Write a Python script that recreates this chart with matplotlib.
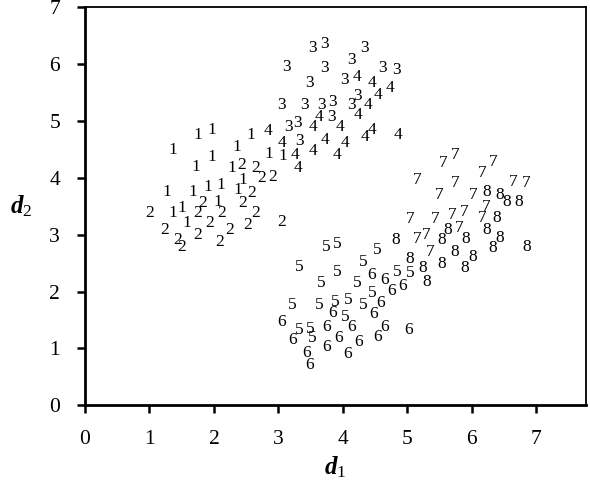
import matplotlib.pyplot as plt

plt.rcParams['font.family'] = ['Liberation Serif', 'DejaVu Serif']
plt.rcParams['mathtext.fontset'] = 'custom'
plt.rcParams['mathtext.rm'] = 'Liberation Serif'
plt.rcParams['mathtext.it'] = 'Liberation Serif:italic'
plt.rcParams['mathtext.bf'] = 'Liberation Serif:bold:italic'

# class 1
x1 = [1.75, 1.97, 1.36, 1.97, 1.72, 1.27, 1.67, 1.91, 2.11, 1.36,
      1.50, 2.06, 1.58, 2.36, 2.57, 2.28, 2.45, 2.37, 2.85, 3.07]
y1 = [4.75, 4.84, 4.49, 4.37, 4.19, 3.75, 3.75, 3.84, 3.87, 3.38,
      3.47, 3.58, 3.21, 4.54, 4.75, 4.17, 3.96, 3.79, 4.42, 4.38]
# class 2
x2 = [1.01, 1.74, 1.83, 2.12, 1.24, 1.74, 1.94, 2.09, 1.43, 1.50,
      2.43, 2.64, 2.74, 2.91, 2.59, 2.45, 2.64, 2.53, 3.05, 2.25]
y2 = [3.38, 3.38, 3.56, 3.38, 3.08, 2.99, 3.21, 2.87, 2.91, 2.78,
      4.23, 4.17, 4.00, 4.02, 3.73, 3.56, 3.38, 3.17, 3.22, 3.08]
# class 3
x3 = [3.53, 3.71, 4.34, 4.14, 3.13, 3.72, 4.62, 4.84, 3.49, 4.02,
      4.23, 3.05, 3.41, 3.67, 3.84, 4.14, 3.83, 3.15, 3.29, 3.33]
y3 = [6.28, 6.35, 6.28, 6.07, 5.95, 5.93, 5.93, 5.90, 5.67, 5.72,
      5.44, 5.28, 5.28, 5.28, 5.33, 5.28, 5.07, 4.89, 4.96, 4.65]
# class 4
x4 = [4.22, 4.45, 4.73, 4.54, 4.39, 3.63, 4.23, 3.53, 3.95, 4.45,
      4.34, 4.85, 3.05, 3.72, 4.03, 3.26, 3.53, 3.91, 3.30, 2.84]
y4 = [5.77, 5.67, 5.58, 5.46, 5.28, 5.07, 5.11, 4.89, 4.89, 4.84,
      4.72, 4.75, 4.61, 4.67, 4.61, 4.40, 4.47, 4.40, 4.17, 4.82]
# class 5
x5 = [3.74, 3.92, 3.33, 3.92, 4.31, 4.53, 3.67, 4.23, 3.22, 3.63,
      3.88, 4.08, 4.31, 4.03, 3.33, 3.49, 3.53, 4.45, 4.84, 5.04]
y5 = [2.78, 2.84, 2.43, 2.34, 2.52, 2.73, 2.15, 2.15, 1.76, 1.76,
      1.82, 1.85, 1.76, 1.55, 1.32, 1.34, 1.18, 1.98, 2.34, 2.33]
# class 6
x6 = [3.84, 3.05, 3.75, 4.14, 3.22, 3.94, 4.25, 3.44, 3.74, 4.08,
      3.49, 4.45, 4.64, 4.93, 4.76, 4.59, 4.47, 4.64, 4.54, 5.02]
y6 = [1.62, 1.46, 1.38, 1.38, 1.15, 1.18, 1.11, 0.92, 1.03, 0.90,
      0.71, 2.29, 2.20, 2.10, 2.01, 1.80, 1.61, 1.38, 1.20, 1.32]
# class 7
x7 = [5.55, 5.74, 5.15, 5.74, 5.50, 5.05, 5.43, 5.69, 5.89, 5.15,
      5.29, 5.81, 5.35, 6.16, 6.33, 6.64, 6.85, 6.02, 6.23, 6.16]
y7 = [4.26, 4.40, 3.96, 3.91, 3.70, 3.28, 3.28, 3.35, 3.40, 2.92,
      2.99, 3.12, 2.70, 4.09, 4.28, 3.93, 3.91, 3.70, 3.49, 3.29]
# class 8
x8 = [4.82, 5.53, 5.63, 5.91, 5.04, 5.74, 5.24, 5.53, 5.89, 5.30,
      6.23, 6.43, 6.54, 6.73, 6.39, 6.23, 6.43, 6.33, 6.85, 6.02]
y8 = [2.91, 2.91, 3.08, 2.92, 2.57, 2.70, 2.41, 2.49, 2.41, 2.17,
      3.75, 3.70, 3.58, 3.58, 3.29, 3.08, 2.94, 2.77, 2.78, 2.61]

classes = [('1', x1, y1), ('2', x2, y2), ('3', x3, y3), ('4', x4, y4),
           ('5', x5, y5), ('6', x6, y6), ('7', x7, y7), ('8', x8, y8)]

fig = plt.figure(figsize=(5.9, 4.9), dpi=100)
ax = fig.add_axes([0.144, 0.173, 0.849, 0.812])

for lab, xs, ys in classes:
    for xv, yv in zip(xs, ys):
        ax.text(xv, yv, lab, fontsize=12.5, ha='center', va='center', color='black')

ax.set_xlim(0, 7.77)
ax.set_ylim(0, 7)
ax.set_xticks(range(8))
ax.set_yticks(range(8))
ax.tick_params(direction='out', length=6, width=1.8, labelsize=15.5, pad=12)
ax.tick_params(axis='y', pad=12)
for s in ['left', 'bottom']:
    ax.spines[s].set_linewidth(2)
for s in ['top', 'right']:
    ax.spines[s].set_linewidth(1.3)

ax.set_xlabel(r'$\mathbf{d}_{\mathit{1}}$', fontsize=18, labelpad=4)
ax.set_ylabel(r'$\mathbf{d}_{\mathit{2}}$', fontsize=18, rotation=0, labelpad=20, va='center')

fig.savefig('out.png', dpi=100)
